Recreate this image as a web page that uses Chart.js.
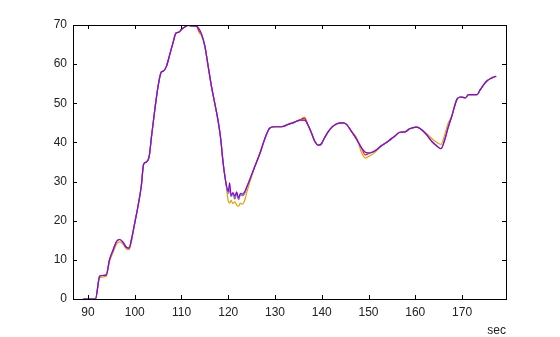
<!DOCTYPE html>
<html>
<head>
<meta charset="utf-8">
<script src="https://cdn.jsdelivr.net/npm/chart.js@4.4.1/dist/chart.umd.min.js"></script>
<style>
  body { margin: 0; background: #fff; }
  #wrap { width: 560px; height: 337px; }
</style>
</head>
<body>
<div id="wrap"><canvas id="chart" width="560" height="337"></canvas></div>
<script>
// time axis (sec), shared by all four runs
const times = [
  89, 90, 91, 91.6, 92.5, 93, 93.9, 94.6, 95.4, 96.1,
  96.8, 97.5, 98.2, 98.8, 99.3, 100, 100.7, 101.4, 101.9, 102.5,
  103.1, 103.6, 104.3, 105, 105.7, 106.1, 106.8, 107.5, 108.2, 108.8,
  109.5, 110, 110.7, 111.4, 112.3, 113.2, 113.8, 114.3, 115, 115.7,
  116.4, 117.1, 117.9, 118.4, 118.9, 119.5, 120, 120.3, 120.6, 121,
  121.4, 121.8, 122.2, 122.6, 123, 123.6, 123.9, 124.6, 125.7, 126.8,
  127.9, 128.9, 130, 131.4, 132.8, 134.2, 135.3, 136.3, 137, 137.8,
  138.5, 139.3, 139.9, 140.6, 141.7, 143.1, 144.5, 145.3, 146.3, 147.4,
  148.5, 149.3, 150.3, 151.3, 152.8, 154.2, 155.6, 156.7, 157.8, 158.8,
  160.3, 161.3, 162.4, 163.5, 164.5, 165.5, 166.3, 167, 167.8, 168.9,
  169.6, 170.7, 171.4, 173.2, 173.9, 175.3, 176.4, 177.3
];

const purpleVals = [
  0, 0, 0, 0, 5.8, 6.0, 6.1, 10, 12.6, 14.7,
  15.2, 14.5, 13.2, 13.0, 15.2, 19.4, 23.7, 28.8, 34.4, 35,
  36.5, 41.6, 48.4, 54.4, 58, 58.2, 59.5, 62.5, 65.5, 67.9,
  68.2, 68.9, 69.5, 69.9, 69.8, 69.7, 68.9, 67.6, 64.6, 59.5,
  54.4, 50.1, 45, 40.8, 34.8, 29.7, 27.5, 29.7, 26.5, 27.2,
  26.3, 27.4, 25.8, 27.0, 26.8, 27.6, 28.4, 30.5, 33.9, 37.3,
  41.2, 43.7, 44, 44, 44.6, 45.2, 45.7, 45.7, 44.6, 42.4,
  40.3, 39.3, 39.6, 41.2, 43.3, 44.7, 45, 44.6, 42.9, 40.9,
  38.6, 37.5, 37.3, 37.8, 39.2, 40.3, 41.6, 42.6, 42.7, 43.5,
  43.9, 43.3, 42.0, 40.3, 39.2, 38.4, 40.7, 43.7, 46.7, 51,
  51.6, 51.4, 52.2, 52.2, 53.5, 55.7, 56.5, 56.9
];

const blueVals = [
  0, 0, 0, 0, 5.8, 6.0, 6.1, 10, 12.6, 14.7,
  15.2, 14.5, 13.2, 13.0, 15.2, 19.4, 23.7, 28.8, 34.4, 35,
  36.5, 41.6, 48.4, 54.4, 58, 58.2, 59.5, 62.5, 65.5, 67.9,
  68.2, 68.9, 69.5, 69.9, 69.8, 69.7, 68.9, 67.6, 64.6, 59.5,
  54.4, 50.1, 45, 40.8, 34.8, 29.7, 27, 28.5, 26.3, 26.8,
  26.0, 26.5, 25.5, 26.6, 26.5, 27.3, 28.4, 30.5, 33.9, 37.3,
  41.2, 43.7, 44, 44, 44.6, 45.2, 45.7, 45.7, 44.6, 42.4,
  40.3, 39.3, 39.6, 41.2, 43.3, 44.7, 45, 44.6, 42.9, 40.9,
  38.6, 37.5, 37.3, 37.8, 39.2, 40.3, 41.6, 42.6, 42.7, 43.5,
  43.9, 43.3, 42.0, 40.3, 39.2, 38.4, 40.7, 43.7, 46.7, 51,
  51.6, 51.4, 52.2, 52.2, 53.5, 55.7, 56.5, 56.9
];

const redVals = [
  0, 0, 0, 0, 5.8, 6.0, 6.1, 10, 12.6, 14.7,
  15.2, 14.5, 13.2, 13.0, 15.2, 19.4, 23.7, 28.8, 34.4, 35,
  36.5, 41.6, 48.4, 54.4, 58, 58.2, 59.5, 62.5, 65.5, 67.9,
  68.2, 68.9, 69.5, 69.9, 69.8, 69.7, 68.4, 67.6, 64.6, 59.5,
  54.4, 50.1, 45, 40.8, 34.8, 29.7, 27.0, 28.0, 26.2, 26.8,
  25.6, 27.0, 25.4, 26.6, 26.4, 27.3, 28.4, 30.5, 33.9, 37.3,
  41.2, 43.7, 44, 44, 44.6, 45.2, 45.7, 46.2, 44.6, 42.4,
  40.3, 39.3, 39.6, 41.2, 43.3, 44.7, 45, 44.6, 42.9, 40.9,
  38.6, 36.8, 37.3, 37.8, 39.2, 40.3, 41.6, 42.6, 42.7, 43.5,
  43.9, 43.3, 42.0, 40.3, 39.2, 38.4, 40.7, 43.7, 46.7, 51,
  51.6, 51.4, 52.2, 52.2, 53.5, 55.7, 56.5, 56.9
];

const orangeVals = [
  0, 0, 0, 0, 5.5, 5.6, 5.8, 9.5, 12.0, 14.0,
  14.6, 14.0, 12.8, 12.6, 14.6, 19.4, 23.7, 28.8, 34.4, 35,
  36.5, 41.6, 48.4, 54.4, 58, 58.2, 59.5, 62.5, 65.5, 67.9,
  68.2, 68.9, 69.5, 69.9, 69.8, 69.7, 68.0, 67.2, 64.6, 59.5,
  54.4, 50.1, 45, 40.8, 34.8, 29.7, 25.0, 24.5, 25.2, 24.4,
  24.8, 24.0, 23.7, 24.5, 24.2, 25.5, 27.0, 29.8, 33.9, 37.3,
  41.2, 43.7, 44, 44, 44.6, 45.2, 45.7, 46.5, 44.6, 42.4,
  40.3, 39.3, 39.6, 41.2, 43.3, 44.7, 45, 44.6, 42.9, 41.3,
  37.5, 36.0, 36.6, 37.4, 39.2, 40.3, 41.6, 42.6, 42.7, 43.5,
  43.9, 43.3, 42.3, 41.0, 40.1, 39.5, 42.0, 44.8, 46.7, 51,
  51.6, 51.4, 52.2, 52.2, 53.5, 55.7, 56.5, 56.9
];

const xTicks = [90, 100, 110, 120, 130, 140, 150, 160, 170];

function toPoints(vals) {
  return times.map((t, i) => ({ x: t, y: vals[i] }));
}

// gnuplot-like frame: box round the plot with inward tick marks on all sides
const framePlugin = {
  id: 'frame',
  afterDraw(chart) {
    const { ctx, chartArea: a, scales: { x, y } } = chart;
    ctx.save();
    ctx.strokeStyle = '#000';
    ctx.lineWidth = 1;
    ctx.strokeRect(a.left + 0.5, a.top + 0.5, a.right - a.left, a.bottom - a.top);
    ctx.beginPath();
    x.ticks.forEach(t => {
      const px = Math.round(x.getPixelForValue(t.value)) + 0.5;
      ctx.moveTo(px, a.bottom); ctx.lineTo(px, a.bottom - 4);
      ctx.moveTo(px, a.top); ctx.lineTo(px, a.top + 4);
    });
    y.ticks.forEach(t => {
      const py = Math.round(y.getPixelForValue(t.value)) + 0.5;
      ctx.moveTo(a.left, py); ctx.lineTo(a.left + 4, py);
      ctx.moveTo(a.right, py); ctx.lineTo(a.right - 4, py);
    });
    ctx.stroke();
    ctx.restore();
  }
};

Chart.defaults.font.family = '"Liberation Sans", Arial, sans-serif';
Chart.defaults.font.size = 12;
Chart.defaults.color = '#222';

const lineStyle = { borderWidth: 1.2, pointRadius: 0, fill: false, cubicInterpolationMode: 'monotone' };

new Chart(document.getElementById('chart').getContext('2d'), {
  type: 'line',
  data: {
    datasets: [
      { ...lineStyle, label: 'purple', data: toPoints(purpleVals), borderColor: '#9400d3' },
      { ...lineStyle, label: 'blue', data: toPoints(blueVals), borderColor: '#56b4e9' },
      { ...lineStyle, label: 'red', data: toPoints(redVals), borderColor: '#e51e10' },
      { ...lineStyle, label: 'orange', data: toPoints(orangeVals), borderColor: '#e69f00' }
    ]
  },
  options: {
    responsive: false,
    animation: false,
    layout: { padding: { top: 25, right: 54, left: 0, bottom: 0 } },
    plugins: { legend: { display: false }, tooltip: { enabled: false } },
    scales: {
      x: {
        type: 'linear',
        min: 86.8,
        max: 179.4,
        grid: { display: false, drawTicks: false },
        border: { display: false },
        afterBuildTicks: s => { s.ticks = xTicks.map(v => ({ value: v })); },
        afterFit: s => { s.height = 38; },
        ticks: { padding: 6, maxRotation: 0, autoSkip: false },
        title: { display: true, text: 'sec', align: 'end', padding: 0, font: { size: 12, lineHeight: 1 } }
      },
      y: {
        min: 0,
        max: 70,
        grid: { display: false, drawTicks: false },
        border: { display: false },
        afterFit: s => { s.width = 73; },
        ticks: { stepSize: 10, padding: 6 }
      }
    }
  },
  plugins: [framePlugin]
});
</script>
</body>
</html>
